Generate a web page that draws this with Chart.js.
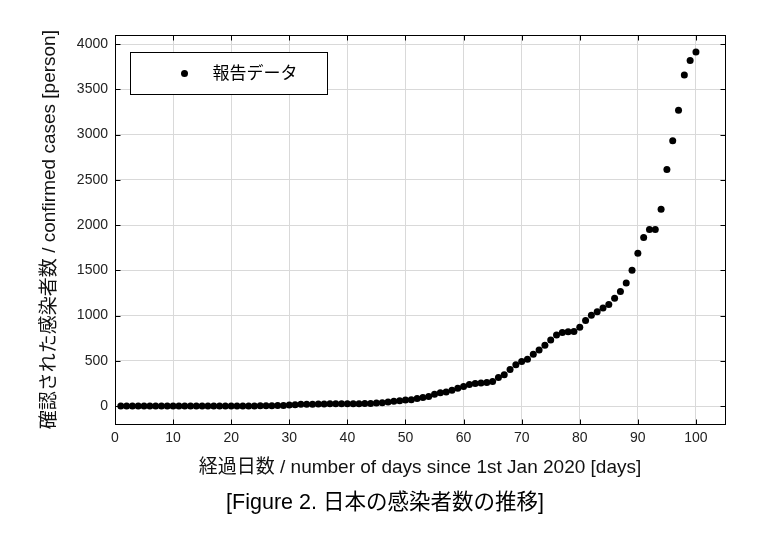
<!DOCTYPE html>
<html><head><meta charset="utf-8">
<script src="https://cdn.jsdelivr.net/npm/chart.js@4/dist/chart.umd.min.js"></script>
<style>html,body{margin:0;padding:0;background:#fff}#wrap{width:780px;height:542px}</style>
</head><body><div id="wrap"><canvas id="c" width="780" height="542"></canvas></div>
<script>
const days = [1,2,3,4,5,6,7,8,9,10,11,12,13,14,15,16,17,18,19,20,21,22,23,24,25,26,27,28,29,30,31,32,33,34,35,36,37,38,39,40,41,42,43,44,45,46,47,48,49,50,51,52,53,54,55,56,57,58,59,60,61,62,63,64,65,66,67,68,69,70,71,72,73,74,75,76,77,78,79,80,81,82,83,84,85,86,87,88,89,90,91,92,93,94,95,96,97,98,99,100];
const cases = [0,0,0,0,0,0,0,0,0,0,0,0,0,0,0,1,1,1,1,1,1,2,2,2,3,4,4,7,7,11,15,20,20,20,22,22,25,25,25,26,26,26,28,28,33,38,45,53,59,66,70,84,95,106,130,148,157,176,198,216,238,249,256,262,272,316,347,403,458,493,518,572,621,673,731,786,814,822,824,871,946,1003,1042,1083,1122,1192,1266,1361,1500,1690,1864,1951,1951,2175,2614,2931,3269,3657,3817,3911];
const xTicks = [0,10,20,30,40,50,60,70,80,90,100];
const yTicks = [0,500,1000,1500,2000,2500,3000,3500,4000];
const seriesLabel = '報告データ';
const xTitle = '経過日数 / number of days since 1st Jan 2020 [days]';
const yTitle = '確認された感染者数 / confirmed cases [person]';
const figTitle = '[Figure 2. 日本の感染者数の推移]';

const FONT = "'Liberation Sans', 'Noto Sans CJK JP', sans-serif";

const framePlugin = {
  id: 'frame',
  afterDatasetsDraw(chart) {
    const {ctx, chartArea: a, scales: {x, y}} = chart;
    const L = Math.round(a.left) + 0.5, R = Math.round(a.right) + 0.5;
    const T = Math.round(a.top) + 0.5, B = Math.round(a.bottom) + 0.5;
    ctx.save();
    ctx.strokeStyle = '#000';
    ctx.lineWidth = 1;
    ctx.strokeRect(L, T, R - L, B - T);
    const tl = 5;
    ctx.beginPath();
    xTicks.forEach(v => {
      const p = Math.round(x.getPixelForValue(v)) + 0.5;
      ctx.moveTo(p, B); ctx.lineTo(p, B - tl);
      ctx.moveTo(p, T); ctx.lineTo(p, T + tl);
    });
    yTicks.forEach(v => {
      const p = Math.round(y.getPixelForValue(v)) + 0.5;
      ctx.moveTo(L, p); ctx.lineTo(L + tl, p);
      ctx.moveTo(R, p); ctx.lineTo(R - tl, p);
    });
    ctx.stroke();
    // legend box
    const ds = chart.data.datasets[0];
    const bx = Math.round(a.left) + 15.5, by = Math.round(a.top) + 17.5, bw = 197, bh = 42;
    ctx.fillStyle = '#fff';
    ctx.fillRect(bx, by, bw, bh);
    ctx.strokeRect(bx, by, bw, bh);
    ctx.fillStyle = ds.backgroundColor;
    ctx.beginPath();
    ctx.arc(bx + 54, by + bh / 2, ds.pointRadius, 0, Math.PI * 2);
    ctx.fill();
    ctx.fillStyle = '#000';
    ctx.font = '17px ' + FONT;
    ctx.textBaseline = 'middle';
    ctx.textAlign = 'left';
    ctx.fillText(ds.label, bx + 82, by + bh / 2 + 1);
    ctx.restore();
  }
};

new Chart(document.getElementById('c'), {
  type: 'scatter',
  data: {
    datasets: [{
      label: seriesLabel,
      data: days.map((d, i) => ({x: d, y: cases[i]})),
      backgroundColor: '#000',
      borderColor: '#000',
      borderWidth: 0,
      pointRadius: 3.5
    }]
  },
  options: {
    responsive: false,
    animation: false,
    devicePixelRatio: 1,
    layout: {padding: {left: 0, right: 10, top: 35, bottom: 0}},
    plugins: {
      legend: {display: false},
      tooltip: {enabled: false},
      title: {
        display: true, text: figTitle, position: 'bottom', color: '#000',
        font: {family: FONT, size: 21.5, weight: 'normal'},
        padding: {top: 0, bottom: 26}
      }
    },
    scales: {
      x: {
        type: 'linear', min: 0, max: 105,
        afterBuildTicks: s => { s.ticks = xTicks.map(v => ({value: v})); },
        afterFit: s => { s.height = 66; },
        grid: {color: '#d9d9d9', drawTicks: false, lineWidth: 1},
        border: {display: false},
        ticks: {padding: 6, color: '#222', font: {family: FONT, size: 14}, maxRotation: 0, callback: v => String(v)},
        title: {display: true, text: xTitle, color: '#111', font: {family: FONT, size: 19}, padding: {top: 0, bottom: 11.5}}
      },
      y: {
        type: 'linear', min: -200, max: 4100,
        afterBuildTicks: s => { s.ticks = yTicks.map(v => ({value: v})); },
        afterFit: s => { s.width = 115; },
        grid: {color: '#d9d9d9', drawTicks: false, lineWidth: 1},
        border: {display: false},
        ticks: {padding: 7, color: '#222', font: {family: FONT, size: 14}, callback: v => String(v)},
        title: {display: true, text: yTitle, color: '#111', font: {family: FONT, size: 19}, padding: {top: 38.5, bottom: 0}}
      },
      yRight: {
        type: 'linear', position: 'right', min: -200, max: 4100,
        afterFit: s => { s.width = 45; },
        grid: {display: false, drawTicks: false},
        border: {display: false},
        ticks: {display: false}
      }
    }
  },
  plugins: [framePlugin]
});
</script>
</body></html>
